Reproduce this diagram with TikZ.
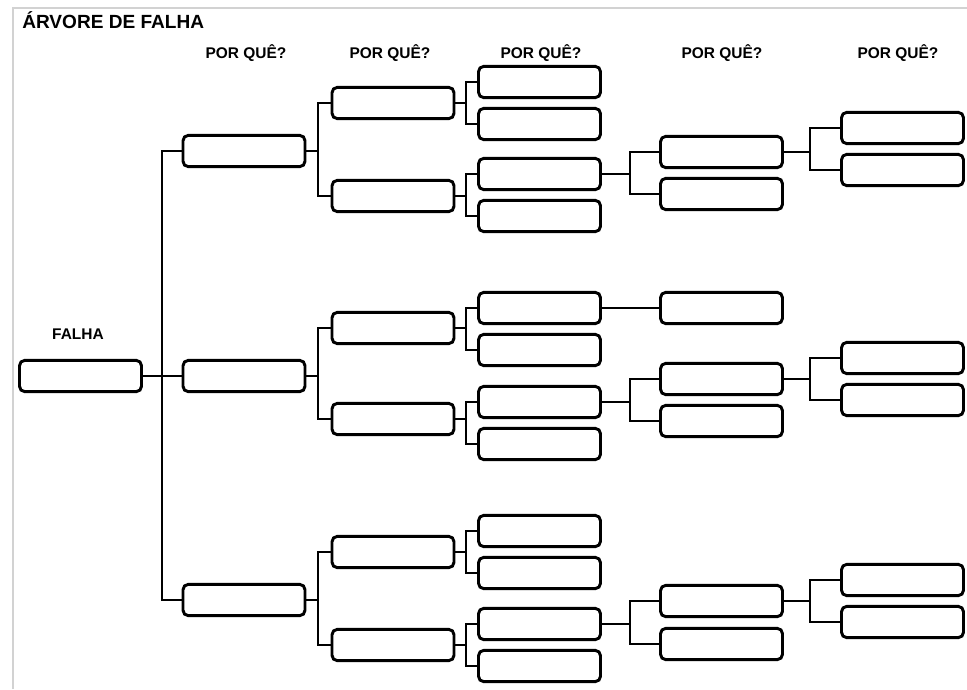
\documentclass[tikz,border=0pt]{standalone}
\usepackage{fontspec}
\setmainfont{Liberation Sans}
\begin{document}
\begin{tikzpicture}[x=0.75pt,y=-0.75pt,
  box/.style={draw=black,line width=2.2pt,rounded corners=4pt,fill=white,minimum width=91.5pt,minimum height=23.5pt,inner sep=0pt},
  link/.style={draw=black,line width=1.6pt},
  hdr/.style={font=\bfseries\fontsize{11.6}{13}\selectfont,anchor=base,inner sep=0pt},
  ttl/.style={font=\bfseries\fontsize{14.3}{16}\selectfont,anchor=base west,inner sep=0pt}]
\useasboundingbox (0,0) rectangle (967,689);
\fill[white] (0,0) rectangle (967,689);
\draw[gray!35,line width=1.2pt] (13,689) -- (13,8) -- (967,8);
% texts
\node[ttl] (title) at (22,28) {ÁRVORE DE FALHA};
\node[hdr] (h1) at (246,58) {POR QUÊ?};
\node[hdr] (h2) at (390,58) {POR QUÊ?};
\node[hdr] (h3) at (541,58) {POR QUÊ?};
\node[hdr] (h4) at (722,58) {POR QUÊ?};
\node[hdr] (h5) at (898,58) {POR QUÊ?};
\node[hdr] (hf) at (78,339) {FALHA};
% bracket x positions
\coordinate (b1) at (162,0);
\coordinate (b2) at (318,0);
\coordinate (b3) at (466,0);
\coordinate (b4) at (630,0);
\coordinate (b5) at (810,0);
% failure box
\node[box] (f) at (80.5,376) {};
% column 1
\node[box] (a1) at (244,151) {};
\node[box] (a2) at (244,376) {};
\node[box] (a3) at (244,600) {};
% column 2
\node[box] (c11) at (393,103) {};
\node[box] (c12) at (393,196) {};
\node[box] (c21) at (393,328) {};
\node[box] (c22) at (393,419) {};
\node[box] (c31) at (393,552) {};
\node[box] (c32) at (393,645) {};
% column 3
\node[box] (d111) at (539.5,82) {};
\node[box] (d112) at (539.5,124) {};
\node[box] (d121) at (539.5,174) {};
\node[box] (d122) at (539.5,216) {};
\node[box] (d211) at (539.5,308) {};
\node[box] (d212) at (539.5,350) {};
\node[box] (d221) at (539.5,402) {};
\node[box] (d222) at (539.5,444) {};
\node[box] (d311) at (539.5,531) {};
\node[box] (d312) at (539.5,573) {};
\node[box] (d321) at (539.5,624) {};
\node[box] (d322) at (539.5,666) {};
% column 4
\node[box] (e11) at (721.5,152) {};
\node[box] (e12) at (721.5,194) {};
\node[box] (e21) at (721.5,308) {};
\node[box] (e31) at (721.5,379) {};
\node[box] (e32) at (721.5,421) {};
\node[box] (e41) at (721.5,601) {};
\node[box] (e42) at (721.5,644) {};
% column 5
\node[box] (g11) at (902.5,128) {};
\node[box] (g12) at (902.5,170) {};
\node[box] (g21) at (902.5,358) {};
\node[box] (g22) at (902.5,400) {};
\node[box] (g31) at (902.5,580) {};
\node[box] (g32) at (902.5,622) {};
% connectors
\draw[link] (f.east) -- (a2.west);
\draw[link] (a1.west) -- (a1.west -| b1) -- (a3.west -| b1) -- (a3.west);
\foreach \p/\c in {a1/c11,a1/c12,a2/c21,a2/c22,a3/c31,a3/c32}
  \draw[link] (\p.east) -- (\p.east -| b2) |- (\c.west);
\foreach \p/\c in {c11/d111,c11/d112,c12/d121,c12/d122,c21/d211,c21/d212,c22/d221,c22/d222,c31/d311,c31/d312,c32/d321,c32/d322}
  \draw[link] (\p.east) -- (\p.east -| b3) |- (\c.west);
\foreach \p/\c in {d121/e11,d121/e12,d221/e31,d221/e32,d321/e41,d321/e42}
  \draw[link] (\p.east) -- (\p.east -| b4) |- (\c.west);
\draw[link] (d211.east) -- (e21.west);
\foreach \p/\c in {e11/g11,e11/g12,e31/g21,e31/g22,e41/g31,e41/g32}
  \draw[link] (\p.east) -- (\p.east -| b5) |- (\c.west);
\end{tikzpicture}
\end{document}
